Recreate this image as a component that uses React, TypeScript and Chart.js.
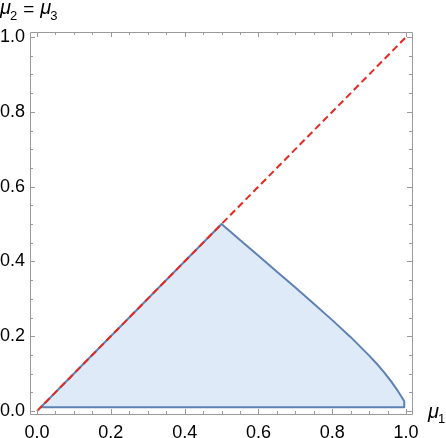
import { useEffect, useRef } from "react";
import { Chart, registerables } from "chart.js";

Chart.register(...registerables);

// Region boundary (closed polygon)
const regionX = [
  0.01, 0.5, 0.55, 0.6, 0.65, 0.7, 0.75, 0.8, 0.85, 0.9, 0.92, 0.94, 0.96, 0.976, 0.985, 0.995, 0.995, 0.01,
];
const regionY = [
  0.01, 0.5, 0.4575, 0.415, 0.3725, 0.33, 0.2868, 0.243, 0.1975, 0.148, 0.127, 0.104, 0.0785, 0.056, 0.042, 0.026, 0.01, 0.01,
];

// Dashed diagonal mu2 = mu1
const diagX = [0, 1];
const diagY = [0, 1];

// Axis ticks
const majorTickValues = [0, 0.2, 0.4, 0.6, 0.8, 1.0];
const majorTickLabels = ["0.0", "0.2", "0.4", "0.6", "0.8", "1.0"];
const minorTickValues = [
  0.05, 0.1, 0.15, 0.25, 0.3, 0.35, 0.45, 0.5, 0.55, 0.65, 0.7, 0.75, 0.85, 0.9, 0.95,
];

const FONT = "Liberation Sans";

const framePlugin = {
  id: "mmaFrame",
  afterDraw(chart: any) {
    const { ctx, chartArea, scales } = chart;
    const { left, right, top, bottom } = chartArea;
    ctx.save();
    ctx.strokeStyle = "#9a9a9a";
    ctx.lineWidth = 1;
    ctx.beginPath();
    ctx.rect(Math.round(left) + 0.5, Math.round(top) + 0.5, Math.round(right - left), Math.round(bottom - top));
    ctx.stroke();
    const drawTicks = (vals: number[], len: number) => {
      ctx.beginPath();
      for (const v of vals) {
        const px = Math.round(scales.x.getPixelForValue(v)) + 0.5;
        ctx.moveTo(px, bottom);
        ctx.lineTo(px, bottom - len);
        ctx.moveTo(px, top);
        ctx.lineTo(px, top + len);
        const py = Math.round(scales.y.getPixelForValue(v)) + 0.5;
        ctx.moveTo(left, py);
        ctx.lineTo(left + len, py);
        ctx.moveTo(right, py);
        ctx.lineTo(right - len, py);
      }
      ctx.stroke();
    };
    drawTicks(majorTickValues, 5);
    drawTicks(minorTickValues, 3);

    // axis titles
    ctx.fillStyle = "#000";
    ctx.textBaseline = "alphabetic";
    ctx.textAlign = "left";
    const big = `italic 20px ${FONT}`;
    const sub = `13px ${FONT}`;
    const norm = `19px ${FONT}`;
    let x = 0;
    ctx.font = big;
    ctx.fillText("μ", x, 14);
    x += ctx.measureText("μ").width - 1;
    ctx.font = sub;
    ctx.fillText("2", x, 20);
    x += ctx.measureText("2").width + 6;
    ctx.font = norm;
    ctx.fillText("=", x, 15);
    x += ctx.measureText("=").width + 6;
    ctx.font = big;
    ctx.fillText("μ", x, 14);
    x += ctx.measureText("μ").width - 1;
    ctx.font = sub;
    ctx.fillText("3", x, 20);

    let x2 = 428;
    ctx.font = big;
    ctx.fillText("μ", x2, 418);
    x2 += ctx.measureText("μ").width - 1;
    ctx.font = sub;
    ctx.fillText("1", x2, 423);
    ctx.restore();
  },
};

export default function App() {
  const ref = useRef<HTMLCanvasElement | null>(null);
  useEffect(() => {
    document.body.style.margin = "0";
    const canvas = ref.current;
    if (!canvas) return;
    const chart = new Chart(canvas, {
      type: "scatter",
      data: {
        datasets: [
          {
            label: "region",
            data: regionX.map((x, i) => ({ x, y: regionY[i] })),
            showLine: true,
            fill: "shape",
            backgroundColor: "#dfeaf8",
            borderColor: "#5e81b5",
            borderWidth: 2,
            borderJoinStyle: "round",
            pointRadius: 0,
            tension: 0,
            order: 2,
          },
          {
            label: "diagonal",
            data: diagX.map((x, i) => ({ x, y: diagY[i] })),
            showLine: true,
            fill: false,
            borderColor: "#e8281e",
            borderDash: [7, 4],
            borderWidth: 2,
            pointRadius: 0,
            order: 1,
          },
        ],
      } as any,
      options: {
        animation: false,
        responsive: false,
        devicePixelRatio: 1,
        layout: { padding: { left: 0, top: 32, right: 34, bottom: 0 } },
        plugins: { legend: { display: false }, tooltip: { enabled: false } },
        scales: {
          x: {
            type: "linear",
            min: -0.019,
            max: 1.016,
            afterBuildTicks: (s: any) => {
              s.ticks = majorTickValues.map((v) => ({ value: v }));
            },
            afterFit: (s: any) => {
              s.height = 24;
            },
            ticks: {
              callback: (_v: any, i: number) => majorTickLabels[i],
              font: { family: FONT, size: 18 },
              color: "#000",
              padding: 8,
              maxRotation: 0,
              autoSkip: false,
            },
            grid: { display: false, drawTicks: false },
            border: { display: false },
          },
          y: {
            type: "linear",
            min: -0.008,
            max: 1.0134,
            afterBuildTicks: (s: any) => {
              s.ticks = majorTickValues.map((v) => ({ value: v }));
            },
            afterFit: (s: any) => {
              s.width = 30;
            },
            ticks: {
              callback: (_v: any, i: number) => majorTickLabels[i],
              font: { family: FONT, size: 18 },
              color: "#000",
              padding: 5,
              autoSkip: false,
            },
            grid: { display: false, drawTicks: false },
            border: { display: false },
          },
        },
      } as any,
      plugins: [framePlugin],
    });
    return () => chart.destroy();
  }, []);
  return (
    <div style={{ position: "absolute", left: 0, top: 0, width: 446, height: 438 }}>
      <canvas ref={ref} width={446} height={438} style={{ width: 446, height: 438, display: "block" }} />
    </div>
  );
}
